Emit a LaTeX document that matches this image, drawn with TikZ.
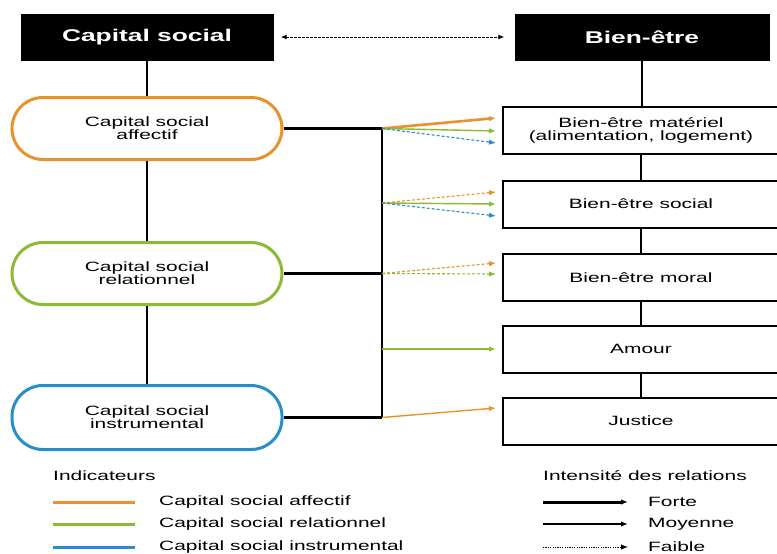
\documentclass[tikz,border=0pt]{standalone}
\usepackage{fontspec}
\setmainfont{Liberation Sans}
\usepackage{graphicx}
\usetikzlibrary{arrows.meta,calc}
\definecolor{corange}{RGB}{232,146,46}
\definecolor{cgreen}{RGB}{140,186,52}
\definecolor{cblue}{RGB}{40,142,200}
\newcommand\wx[1]{\scalebox{1.55}[1]{#1}}
\newcommand\wt[1]{\scalebox{1.55}[1]{#1}}
\begin{document}
\begin{tikzpicture}[x=1pt,y=-1pt,
  titlebox/.style={fill=black, text=white, minimum height=47pt, inner sep=0pt,
    font=\fontsize{17}{17}\selectfont\bfseries},
  capnode/.style={draw, line width=3pt, rounded corners=31pt, minimum width=270pt,
    minimum height=62pt, fill=white, align=center, inner sep=0pt,
    font=\fontsize{13.5}{13}\selectfont},
  wbox/.style={draw, line width=2pt, minimum width=276pt, minimum height=47pt,
    align=center, inner sep=0pt, font=\fontsize{13.5}{13}\selectfont},
  conn/.style={line width=2.2pt, black},
  tipa/.style={-{Latex[length=7pt,width=5.5pt]}},
  forte/.style={tipa, line width=2.6pt},
  moyen/.style={tipa, line width=1.4pt},
  faible/.style={tipa, line width=1.1pt, dash pattern=on 3pt off 2pt},
  legtxt/.style={anchor=west, inner sep=0pt, font=\fontsize{13.5}{13}\selectfont},
]
\fill[white] (0,0) rectangle (777,554);
\clip (0,0) rectangle (777,554);

% titles
\node[titlebox, minimum width=253pt] (cs) at (147,37) {\wt{Capital social}};
\node[titlebox, minimum width=255pt] (be) at (642,37) {\wt{Bien-être}};
\draw[line width=1pt, dash pattern=on 2.5pt off 1.5pt, {Latex[length=6pt,width=5pt]}-{Latex[length=6pt,width=5pt]},
  shorten <=7pt, shorten >=10pt] (cs) -- (be);

% capital social nodes
\node[capnode, draw=corange] (e1) at (147,128.5) {\wx{Capital social}\\\wx{affectif}};
\node[capnode, draw=cgreen] (e2) at (147,273.5) {\wx{Capital social}\\\wx{relationnel}};
\node[capnode, draw=cblue, minimum height=64pt] (e3) at (147,417.5) {\wx{Capital social}\\\wx{instrumental}};

\draw[conn] (cs) -- (e1);
\draw[conn] (e1) -- (e2);
\draw[conn] (e2) -- (e3);

% bien-etre boxes
\node[wbox] (b1) at (641,130) {\wx{Bien-être matériel}\\\wx{(alimentation, logement)}};
\node[wbox] (b2) at (641,204) {\wx{Bien-être social}};
\node[wbox] (b3) at (641,277.5) {\wx{Bien-être moral}};
\node[wbox] (b4) at (641,349) {\wx{Amour}};
\node[wbox] (b5) at (641,421) {\wx{Justice}};

\draw[conn] (be) -- (be |- b1.north);
\draw[conn] (b1) -- (b1 |- b2.north);
\draw[conn] (b2) -- (b2 |- b3.north);
\draw[conn] (b3) -- (b3 |- b4.north);
\draw[conn] (b4) -- (b4 |- b5.north);

% bus
\coordinate (j1) at (382,128.5);
\coordinate (j2) at (382,203);
\coordinate (j3) at (382,273.5);
\coordinate (j4) at (382,349);
\coordinate (j5) at (382,417.5);
\draw[conn] (e1.east) -- (j1);
\draw[conn] (e2.east) -- (j3);
\draw[conn] (e3.east) -- (j5);
\draw[conn] (j1) -- (j5);

% arrow targets
\coordinate (a1o) at (496,118);
\coordinate (a1g) at (496,131);
\coordinate (a1b) at (496,143);
\coordinate (a2o) at (496,192);
\coordinate (a2g) at (496,204);
\coordinate (a2b) at (496,216);
\coordinate (a3o) at (496,263);
\coordinate (a3g) at (496,274);
\coordinate (a4g) at (496,349);
\coordinate (a5o) at (496,408);

\draw[forte, corange] (j1) -- (a1o);
\draw[moyen, cgreen] (j1) -- (a1g);
\draw[faible, cblue] (j1) -- (a1b);
\draw[faible, corange] (j2) -- (a2o);
\draw[moyen, cgreen] (j2) -- (a2g);
\draw[faible, cblue] (j2) -- (a2b);
\draw[faible, corange] (j3) -- (a3o);
\draw[faible, cgreen] (j3) -- (a3g);
\draw[moyen, cgreen] (j4) -- (a4g);
\draw[moyen, corange] (j5) -- (a5o);

% legend left
\node[legtxt] (ind) at (53,476) {\wx{Indicateurs}};
\coordinate (lo1) at (53,502);  \coordinate (lo2) at (135,502);
\coordinate (lg1) at (53,524);  \coordinate (lg2) at (135,524);
\coordinate (lb1) at (53,547);  \coordinate (lb2) at (135,547);
\draw[corange, line width=3pt] (lo1) -- (lo2);
\draw[cgreen, line width=3pt] (lg1) -- (lg2);
\draw[cblue, line width=3pt] (lb1) -- (lb2);
\node[legtxt] (lto) at (159,502) {\wx{Capital social affectif}};
\node[legtxt] (ltg) at (159,524) {\wx{Capital social relationnel}};
\node[legtxt] (ltb) at (159,547) {\wx{Capital social instrumental}};

% legend right
\node[legtxt] (int) at (543,476) {\wx{Intensité des relations}};
\coordinate (f1) at (543,502);  \coordinate (f2) at (628,502);
\coordinate (m1) at (543,524);  \coordinate (m2) at (628,524);
\coordinate (w1) at (543,547);  \coordinate (w2) at (628,547);
\draw[tipa, black, line width=3pt] (f1) -- (f2);
\draw[tipa, black, line width=1.6pt] (m1) -- (m2);
\draw[tipa, black, line width=0.9pt, dash pattern=on 1.2pt off 1.2pt] (w1) -- (w2);
\node[legtxt] (lf) at (648,502) {\wx{Forte}};
\node[legtxt] (lm) at (648,524) {\wx{Moyenne}};
\node[legtxt] (lw) at (648,547) {\wx{Faible}};
\end{tikzpicture}
\end{document}
